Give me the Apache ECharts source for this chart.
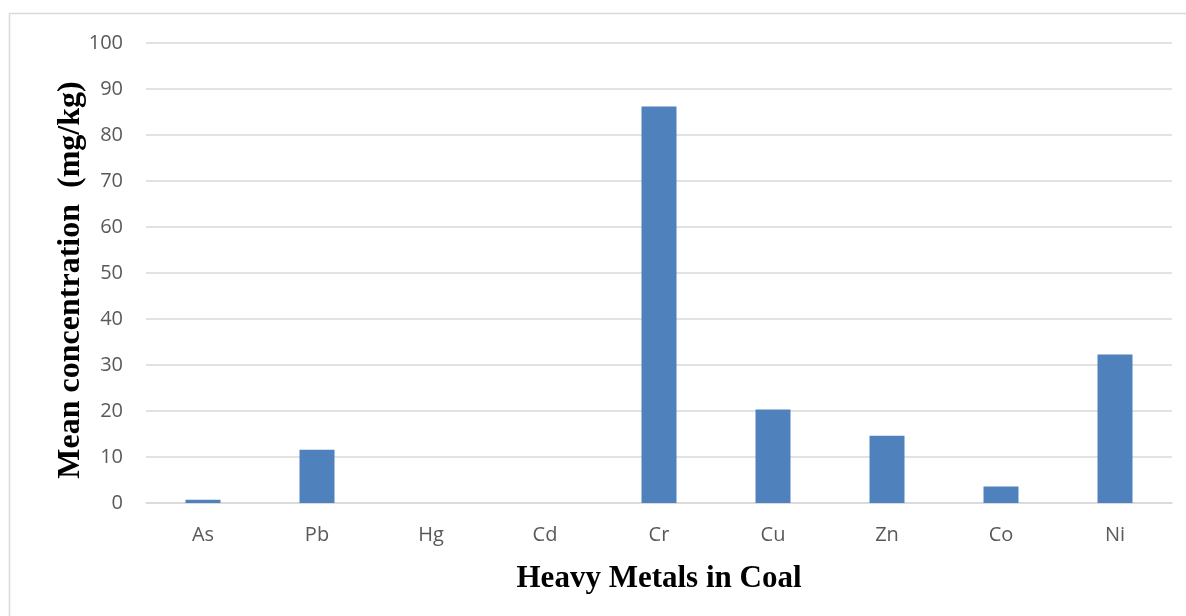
<!DOCTYPE html>
<html><head><meta charset="utf-8">
<script src="https://cdn.jsdelivr.net/npm/echarts@6/dist/echarts.min.js"></script>
<style>html,body{margin:0;padding:0;background:#fff}#c{width:1186px;height:616px}</style>
</head><body><div id="c"></div>
<script>
const categories = ['As','Pb','Hg','Cd','Cr','Cu','Zn','Co','Ni'];
const values = [0.7, 11.6, 0, 0, 86.2, 20.3, 14.6, 3.6, 32.3];
const yTicks = {min: 0, max: 100, interval: 10};
const xTitle = 'Heavy Metals in Coal';
const yTitle = 'Mean concentration  (mg/kg)';

const chart = echarts.init(document.getElementById('c'), null, {renderer: 'canvas'});
chart.setOption({
  animation: false,
  backgroundColor: '#fff',
  graphic: [{
    type: 'rect', shape: {x: 9.5, y: 13.5, width: 1200, height: 700},
    style: {fill: 'none', stroke: '#d9d9d9', lineWidth: 1.5}, z: -1
  }],
  grid: {left: 146, right: 14, top: 43, bottom: 113, containLabel: false},
  xAxis: {
    type: 'category', data: categories,
    axisLine: {show: true, lineStyle: {color: '#d9d9d9', width: 1.5}},
    axisTick: {show: false},
    axisLabel: {color: '#595959', fontSize: 20, fontFamily: 'Open Sans', margin: 22},
    name: xTitle, nameLocation: 'middle', nameGap: 60, nameMoveOverlap: false,
    nameTextStyle: {fontFamily: 'Liberation Serif', fontWeight: 'bold', fontSize: 31, color: '#000'}
  },
  yAxis: {
    type: 'value', min: yTicks.min, max: yTicks.max, interval: yTicks.interval,
    axisLine: {show: false}, axisTick: {show: false},
    splitLine: {lineStyle: {color: '#d9d9d9', width: 1.5}},
    axisLabel: {color: '#595959', fontSize: 20, fontFamily: 'Open Sans', margin: 23},
    name: yTitle, nameLocation: 'middle', nameGap: 59, nameMoveOverlap: false,
    nameTextStyle: {fontFamily: 'Liberation Serif', fontWeight: 'bold', fontSize: 32, color: '#000', padding: [0, 14, 0, 0]}
  },
  series: [{
    type: 'bar', data: values, barWidth: 35,
    itemStyle: {color: '#4f81bd'}
  }]
});
</script></body></html>
